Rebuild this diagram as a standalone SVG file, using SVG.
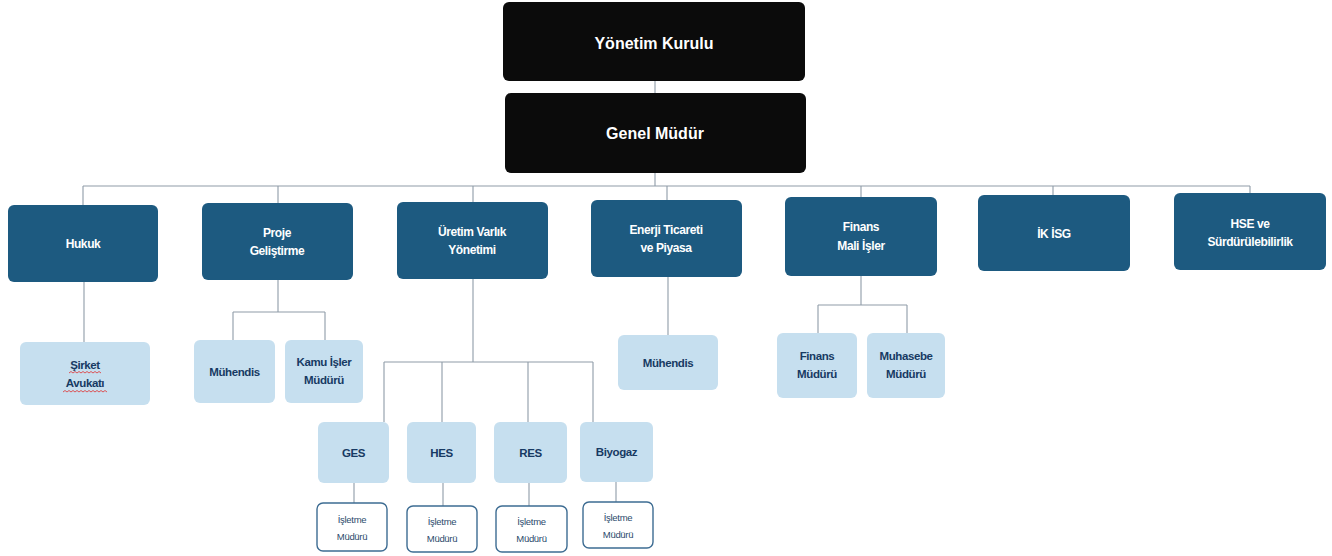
<svg xmlns="http://www.w3.org/2000/svg" width="1332" height="556" viewBox="0 0 1332 556">
<style>
.top{fill:#0b0b0b}
.dep{fill:#1d5a80}
.sub{fill:#c6dfef}
.op{fill:#ffffff;stroke:#3d6c92;stroke-width:1.4}
.tt{font-family:"Liberation Sans",Arial,sans-serif;font-weight:bold;font-size:16px;fill:#ffffff;text-anchor:middle}
.td{font-family:"Liberation Sans",Arial,sans-serif;font-weight:bold;font-size:12px;fill:#ffffff;text-anchor:middle;letter-spacing:-0.4px}
.ts{font-family:"Liberation Sans",Arial,sans-serif;font-weight:bold;font-size:11.5px;fill:#173a63;text-anchor:middle;letter-spacing:-0.4px}
.to{font-family:"Liberation Sans",Arial,sans-serif;font-size:9.5px;fill:#2b4a6c;text-anchor:middle;letter-spacing:-0.3px}
.ln{stroke:#8f9ca8;stroke-width:1.1;fill:none}
.sq{stroke:#e03030;stroke-width:0.8;fill:none}
</style>
<rect width="1332" height="556" fill="#ffffff"/>
<g id="connectors">
<path class="ln" d="M655 81V93M655 173V186M83 186H1250"/>
<path class="ln" d="M83 186V205M278 186V203M473 186V202M667 186V200M861 186V197M1053 186V195M1250 186V193"/>
<path class="ln" d="M84 282V342"/>
<path class="ln" d="M278 280V312M233 312H325M233 312V340M325 312V340"/>
<path class="ln" d="M473 279V362M384 362H593M384 362V422M442 362V422M528 362V422M593 362V422"/>
<path class="ln" d="M354 483V503M443 483V506M529 483V506M616 482V502"/>
<path class="ln" d="M668 277V335"/>
<path class="ln" d="M861 276V305M818 305H907M818 305V333M907 305V333"/>
</g>
<g id="yonetim-kurulu"><rect class="top" x="503" y="2" width="302" height="79" rx="6"/><text class="tt" x="654" y="49">Yönetim Kurulu</text></g>
<g id="genel-mudur"><rect class="top" x="505" y="93" width="301" height="80" rx="6"/><text class="tt" x="655" y="139">Genel Müdür</text></g>
<g id="hukuk"><rect class="dep" x="8" y="205" width="150" height="77" rx="6"/><text class="td" x="83" y="248">Hukuk</text></g>
<g id="proje"><rect class="dep" x="202" y="203" width="151" height="77" rx="6"/><text class="td" x="277" y="237">Proje</text><text class="td" x="277" y="255">Geliştirme</text></g>
<g id="uretim"><rect class="dep" x="397" y="202" width="151" height="77" rx="6"/><text class="td" x="472" y="236">Üretim Varlık</text><text class="td" x="472" y="254">Yönetimi</text></g>
<g id="enerji"><rect class="dep" x="591" y="200" width="151" height="77" rx="6"/><text class="td" x="666" y="234">Enerji Ticareti</text><text class="td" x="666" y="252">ve Piyasa</text></g>
<g id="finans"><rect class="dep" x="785" y="197" width="152" height="79" rx="6"/><text class="td" x="861" y="231">Finans</text><text class="td" x="861" y="250">Mali İşler</text></g>
<g id="ik"><rect class="dep" x="978" y="195" width="152" height="76" rx="6"/><text class="td" x="1054" y="238">İK İSG</text></g>
<g id="hse"><rect class="dep" x="1174" y="193" width="152" height="77" rx="6"/><text class="td" x="1250" y="228">HSE ve</text><text class="td" x="1250" y="246">Sürdürülebilirlik</text></g>
<g id="sirket-avukati"><rect class="sub" x="20" y="342" width="130" height="63" rx="6"/><text class="ts" x="85" y="369">Şirket</text><text class="ts" x="85" y="387">Avukatı</text><path class="sq" d="M69 373l2-1.5l2 1.5l2-1.5l2 1.5l2-1.5l2 1.5l2-1.5l2 1.5l2-1.5l2 1.5l2-1.5l2 1.5l2-1.5l2 1.5l2-1.5l2 1.5M63 392l2-1.5l2 1.5l2-1.5l2 1.5l2-1.5l2 1.5l2-1.5l2 1.5l2-1.5l2 1.5l2-1.5l2 1.5l2-1.5l2 1.5l2-1.5l2 1.5l2-1.5l2 1.5l2-1.5l2 1.5l2-1.5l2 1.5"/></g>
<g id="muhendis-1"><rect class="sub" x="194" y="340" width="81" height="63" rx="6"/><text class="ts" x="234.5" y="376">Mühendis</text></g>
<g id="kamu"><rect class="sub" x="285" y="340" width="78" height="63" rx="6"/><text class="ts" x="324" y="366">Kamu İşler</text><text class="ts" x="324" y="384">Müdürü</text></g>
<g id="ges"><rect class="sub" x="318" y="422" width="71" height="61" rx="6"/><text class="ts" x="353.5" y="457">GES</text></g>
<g id="hes"><rect class="sub" x="407" y="422" width="69" height="61" rx="6"/><text class="ts" x="441.5" y="457">HES</text></g>
<g id="res"><rect class="sub" x="494" y="422" width="73" height="61" rx="6"/><text class="ts" x="530.5" y="457">RES</text></g>
<g id="biyogaz"><rect class="sub" x="580" y="422" width="73" height="60" rx="6"/><text class="ts" x="616.5" y="456">Biyogaz</text></g>
<g id="isletme-ges"><rect class="op" x="317" y="503" width="70" height="48" rx="6"/><text class="to" x="352" y="523">İşletme</text><text class="to" x="352" y="540">Müdürü</text></g>
<g id="isletme-hes"><rect class="op" x="407" y="506" width="70" height="46" rx="6"/><text class="to" x="442" y="525">İşletme</text><text class="to" x="442" y="542">Müdürü</text></g>
<g id="isletme-res"><rect class="op" x="496" y="506" width="71" height="46" rx="6"/><text class="to" x="531.5" y="525">İşletme</text><text class="to" x="531.5" y="542">Müdürü</text></g>
<g id="isletme-biyogaz"><rect class="op" x="583" y="502" width="70" height="46" rx="6"/><text class="to" x="618" y="521">İşletme</text><text class="to" x="618" y="538">Müdürü</text></g>
<g id="muhendis-2"><rect class="sub" x="618" y="335" width="100" height="55" rx="6"/><text class="ts" x="668" y="367">Mühendis</text></g>
<g id="finans-muduru"><rect class="sub" x="777" y="333" width="80" height="65" rx="6"/><text class="ts" x="817" y="360">Finans</text><text class="ts" x="817" y="378">Müdürü</text></g>
<g id="muhasebe-muduru"><rect class="sub" x="867" y="333" width="78" height="65" rx="6"/><text class="ts" x="906" y="360">Muhasebe</text><text class="ts" x="906" y="378">Müdürü</text></g>
</svg>
